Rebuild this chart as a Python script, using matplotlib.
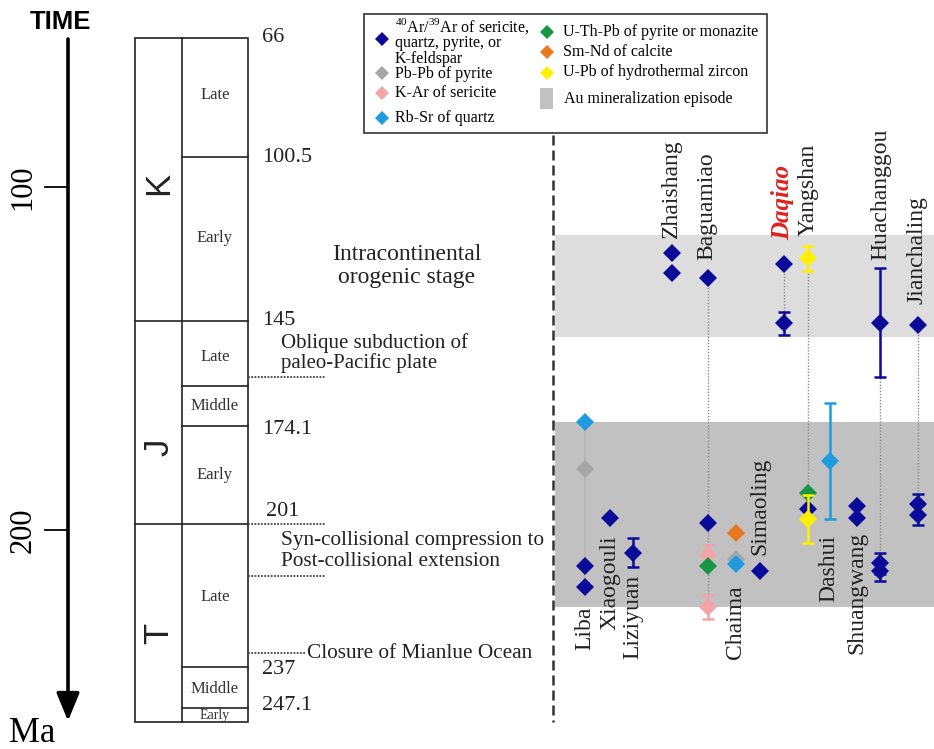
import numpy as np
import matplotlib.pyplot as plt
from matplotlib.patches import Rectangle

plt.rcParams['font.family'] = ['Liberation Serif', 'DejaVu Serif']
plt.rcParams['mathtext.fontset'] = 'custom'
plt.rcParams['mathtext.rm'] = 'Liberation Serif'

# Au deposits
deposits = ['Liba', 'Xiaogouli', 'Liziyuan', 'Zhaishang', 'Baguamiao', 'Chaima',
            'Simaoling', 'Daqiao', 'Yangshan', 'Dashui', 'Shuangwang',
            'Huachanggou', 'Jianchaling']

# ages in Ma as (deposit, age, error)
ar_ar = [('Liba', 210.3, 0), ('Liba', 216.6, 0), ('Xiaogouli', 196.3, 0),
         ('Liziyuan', 206.5, 4.2), ('Zhaishang', 119.3, 0), ('Zhaishang', 125.0, 0),
         ('Baguamiao', 126.4, 0), ('Baguamiao', 198.0, 0), ('Simaoling', 211.9, 0),
         ('Daqiao', 122.5, 0), ('Daqiao', 139.7, 3.3), ('Yangshan', 193.9, 0),
         ('Shuangwang', 192.9, 0), ('Shuangwang', 196.5, 0),
         ('Huachanggou', 139.5, 15.8), ('Huachanggou', 209.6, 3.0),
         ('Huachanggou', 211.8, 3.0), ('Jianchaling', 140.2, 0),
         ('Jianchaling', 192.3, 3.0), ('Jianchaling', 195.5, 3.0)]
pb_pb = [('Liba', 182.2, 0), ('Chaima', 208.5, 0)]
k_ar = [('Baguamiao', 207.2, 3.0), ('Baguamiao', 222.3, 3.5)]
rb_sr = [('Liba', 168.5, 0), ('Chaima', 209.9, 0), ('Dashui', 179.8, 17.0)]
u_th_pb = [('Baguamiao', 210.3, 0), ('Yangshan', 189.1, 0)]
sm_nd = [('Chaima', 200.9, 0)]
u_pb = [('Yangshan', 120.8, 3.6), ('Yangshan', 196.7, 7.0)]

# Au mineralization episodes (Ma)
episodes = [(114.0, 143.7), (168.5, 222.4)]

# geological time scale
boundary_labels = ['66', '100.5', '145', '174.1', '201', '237', '247.1']
periods = ['K', 'J', 'T']
epochs = ['Late', 'Early', 'Late', 'Middle', 'Early', 'Late', 'Middle', 'Early']
time_ticks = [100, 200]

# ---- layout (pixels) ----
W, H = 934, 749
dep_x = dict(zip(deposits, [585, 609.5, 633, 671.5, 707.5, 735.5, 759.5,
                            783.5, 807.5, 830, 856.5, 880, 917.5]))
top_labels = {'Zhaishang': (671.5, 238), 'Baguamiao': (707, 259.5),
              'Daqiao': (782.5, 240), 'Yangshan': (808.5, 236),
              'Huachanggou': (880.5, 259.5), 'Jianchaling': (917, 303.5)}
bottom_labels = {'Liba': (585, 606.5), 'Xiaogouli': (610, 535),
                 'Liziyuan': (633, 575), 'Chaima': (735.5, 585),
                 'Simaoling': (760, 458), 'Dashui': (828.5, 535),
                 'Shuangwang': (857, 531.5)}

NAVY = '#0b0b99'
methods = [(ar_ar, NAVY), (pb_pb, '#a6a6a6'), (k_ar, '#f2a5a9'),
           (u_th_pb, '#179444'), (rb_sr, '#1f9be0'), (sm_nd, '#e8771e'),
           (u_pb, '#fff000')]
episode_colors = ['#dddddd', '#c1c1c1']
INK = '#222222'

fig = plt.figure(figsize=(W / 100, H / 100), dpi=100)
axp = fig.add_axes([0, 0, 1, 1])
axp.set_xlim(0, W)
axp.set_ylim(H, 0)
axp.axis('off')

ax = fig.add_axes([0, 0, 1, 1], facecolor='none')
ax.set_xlim(0, W)
ax.set_ylim(263.7, 45.53)
ax.axis('off')

# time arrow
axp.annotate('', xy=(68, 721), xytext=(68, 39),
             arrowprops=dict(arrowstyle='-|>,head_length=0.85,head_width=0.35',
                             lw=2.6, color='black', mutation_scale=20,
                             shrinkA=0, shrinkB=0))
axp.text(61, 22, 'TIME', family='Liberation Sans', weight='bold', size=18.5,
         ha='center', va='center')
axp.text(32, 733, 'Ma', size=25, ha='center', va='center')
for t in time_ticks:
    ax.plot([45, 68], [t, t], color='black', lw=1.3)
    ax.text(23, t, str(t), rotation=90, size=22, ha='center', va='center')

# time scale column
col_l, col_m, col_r, col_top, col_bot = 135, 182, 248, 38, 722
lw_col = 1.2
axp.add_patch(Rectangle((col_l, col_top), col_r - col_l, col_bot - col_top,
                        fill=False, lw=lw_col, ec=INK))
axp.plot([col_m, col_m], [col_top, col_bot], color=INK, lw=lw_col)
for y in [320.5, 524]:
    axp.plot([col_l, col_r], [y, y], color=INK, lw=lw_col)
for y in [157, 385.5, 426, 666.5, 707.5]:
    axp.plot([col_m, col_r], [y, y], color=INK, lw=lw_col)

label_pos = [(262, 38), (262, 158), (262, 320.5), (262, 430), (266, 511.5),
             (262, 670), (262, 705)]
for lab, (x, y) in zip(boundary_labels, label_pos):
    axp.text(x, y, lab, size=16, ha='left', va='center', color=INK)

for p, y in zip(periods, [183, 447, 633]):
    axp.text(159, y, p, family='Liberation Sans', size=25, rotation=90,
             ha='center', va='center', color=INK)

epoch_y = [95, 238, 357, 406, 475, 597, 689, 715]
for i, (e, y) in enumerate(zip(epochs, epoch_y)):
    axp.text(215, y, e, size=12 if i < 7 else 10, ha='center', va='center',
             color='#333333')

# tectonic setting notes
axp.text(407, 255, 'Intracontinental', size=17, ha='center', va='center', color=INK)
axp.text(407, 278, 'orogenic stage', size=17, ha='center', va='center', color=INK)
axp.text(281, 343, 'Oblique subduction of', size=15, va='center', color=INK)
axp.text(281, 363, 'paleo-Pacific plate', size=15, va='center', color=INK)
axp.text(281, 541, 'Syn-collisional compression to', size=15.3, va='center', color=INK)
axp.text(281, 562, 'Post-collisional extension', size=15.3, va='center', color=INK)
axp.text(307, 653, 'Closure of Mianlue Ocean', size=15.3, va='center', color=INK)
for x0, x1, y in [(248, 325, 376.7), (248, 325, 524.3), (248, 325, 576),
                  (248, 305, 653)]:
    axp.plot([x0, x1], [y, y], color='#444444', lw=1.3, ls=(0, (1, 0.8)))

# separator
axp.plot([553, 553], [135, 722], color='#333333', lw=1.8, ls=(0, (4, 2)))

# mineralization episodes
for (a, b), c in zip(episodes, episode_colors):
    ax.axhspan(a, b, xmin=555 / W, xmax=1, color=c, lw=0, zorder=1)

# links between ages of the same deposit
all_ages = {}
for data, _ in methods:
    for d, age, err in data:
        all_ages.setdefault(d, []).append(age)
for d in ['Baguamiao', 'Daqiao', 'Yangshan', 'Huachanggou', 'Jianchaling']:
    ax.plot([dep_x[d]] * 2, [min(all_ages[d]), max(all_ages[d])],
            color='#8c8c8c', lw=1.0, ls=(0, (1, 1.2)), zorder=2)
ax.plot([dep_x['Liba']] * 2, [min(all_ages['Liba']), max(all_ages['Liba'])],
        color='#b5b5b5', lw=1.2, zorder=2)

# dated samples
for i, (data, c) in enumerate(methods):
    z = 3 + i * 0.2
    xs = np.array([dep_x[d] for d, _, _ in data])
    ys = np.array([a for _, a, _ in data])
    es = np.array([e for _, _, e in data])
    m = es > 0
    if m.any():
        ax.errorbar(xs[m], ys[m], yerr=es[m], fmt='none', ecolor=c,
                    elinewidth=1.8, capsize=4, capthick=1.8, zorder=z)
    ax.plot(xs, ys, 'D', ms=9.5, color=c, mew=0, zorder=z + 0.1)

# deposit names, drawn above the shaded episodes
for d, (x, y) in top_labels.items():
    kw = dict(color=INK, size=17)
    if d == 'Daqiao':
        kw = dict(color='#e0201c', weight='bold', style='italic', size=18)
    ax.text(x, y, d, rotation=90, ha='center', va='bottom',
            transform=axp.transData, zorder=10, **kw)
for d, (x, y) in bottom_labels.items():
    ax.text(x, y, d, rotation=90, size=17, ha='center', va='top',
            color=INK, transform=axp.transData, zorder=10)

# legend
axp.add_patch(Rectangle((364, 14), 403, 119, fill=False, lw=1.2, ec='#333333'))
leg_left = [(39, NAVY), (73, '#a6a6a6'), (93, '#f2a5a9'), (118, '#1f9be0')]
for y, c in leg_left:
    axp.plot(382, y, 'D', ms=7.5, color=c, mew=0)
fs = 11.5
axp.text(395, 26, r'$^{40}$Ar/$^{39}$Ar of sericite,', size=fs, va='center')
axp.text(395, 43, 'quartz, pyrite, or', size=fs, va='center')
axp.text(395, 59, 'K-feldspar', size=fs, va='center')
axp.text(395, 74, 'Pb-Pb of pyrite', size=fs, va='center')
axp.text(395, 93, 'K-Ar of sericite', size=fs, va='center')
axp.text(395, 118, 'Rb-Sr of quartz', size=fs, va='center')
leg_right = [(31.5, '#179444', 'U-Th-Pb of pyrite or monazite'),
             (51.5, '#e8771e', 'Sm-Nd of calcite'),
             (72.5, '#fff000', 'U-Pb of hydrothermal zircon')]
for y, c, t in leg_right:
    axp.plot(547, y, 'D', ms=7.5, color=c, mew=0)
    axp.text(563, y, t, size=fs, va='center')
axp.add_patch(Rectangle((540, 88), 13, 21, color='#c1c1c1', lw=0))
axp.text(564, 99, 'Au mineralization episode', size=fs, va='center')

fig.savefig('out.png', dpi=100)
